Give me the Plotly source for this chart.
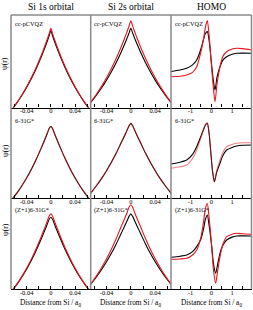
import plotly.graph_objects as go

# ---------------- data ----------------
col_titles = ["Si 1s orbital", "Si 2s orbital", "HOMO"]
row_labels = ["cc-pCVQZ", "6-31G*", "(Z+1)6-31G*"]

# Si 1s column
x_1s = [-0.068, -0.064, -0.056, -0.048, -0.040, -0.032, -0.024, -0.016, -0.010, -0.006, -0.003, 0.0,
        0.003, 0.006, 0.010, 0.016, 0.024, 0.032, 0.040, 0.048, 0.056, 0.064, 0.068]
s1_r1_red = [-0.051, -0.017, 0.055, 0.136, 0.226, 0.326, 0.438, 0.562, 0.665, 0.738, 0.796, 0.856,
             0.796, 0.738, 0.665, 0.562, 0.438, 0.326, 0.226, 0.136, 0.055, -0.017, -0.051]
s1_r1_blk = [-0.049, -0.017, 0.053, 0.132, 0.219, 0.316, 0.425, 0.545, 0.645, 0.716, 0.772, 0.830,
             0.772, 0.716, 0.645, 0.545, 0.425, 0.316, 0.219, 0.132, 0.053, -0.017, -0.049]
s1_r2_red = [-0.055, -0.018, 0.059, 0.147, 0.244, 0.352, 0.473, 0.607, 0.712, 0.785, 0.845, 0.872,
             0.845, 0.785, 0.712, 0.607, 0.473, 0.352, 0.244, 0.147, 0.059, -0.018, -0.055]
s1_r2_blk = [-0.055, -0.018, 0.059, 0.147, 0.244, 0.352, 0.473, 0.607, 0.712, 0.785, 0.845, 0.872,
             0.845, 0.785, 0.712, 0.607, 0.473, 0.352, 0.244, 0.147, 0.059, -0.018, -0.055]
s1_r3_red = [-0.057, -0.019, 0.062, 0.152, 0.253, 0.366, 0.491, 0.631, 0.740, 0.818, 0.877, 0.905,
             0.877, 0.818, 0.740, 0.631, 0.491, 0.366, 0.253, 0.152, 0.062, -0.019, -0.057]
s1_r3_blk = [-0.054, -0.018, 0.059, 0.145, 0.242, 0.349, 0.469, 0.602, 0.707, 0.780, 0.838, 0.865,
             0.838, 0.780, 0.707, 0.602, 0.469, 0.349, 0.242, 0.145, 0.059, -0.018, -0.054]

# Si 2s column
x_2s = [-0.070, -0.065, -0.056, -0.048, -0.040, -0.032, -0.024, -0.016, -0.010, -0.006, -0.003, 0.0,
        0.003, 0.006, 0.010, 0.016, 0.024, 0.032, 0.040, 0.048, 0.056, 0.065, 0.070]
s2_r1_red = [0.023, 0.066, 0.149, 0.231, 0.322, 0.422, 0.532, 0.654, 0.754, 0.825, 0.880, 0.938,
             0.880, 0.825, 0.754, 0.654, 0.532, 0.422, 0.322, 0.231, 0.149, 0.066, 0.023]
s2_r1_blk = [0.025, 0.063, 0.139, 0.213, 0.296, 0.387, 0.487, 0.598, 0.689, 0.753, 0.804, 0.856,
             0.804, 0.753, 0.689, 0.598, 0.487, 0.387, 0.296, 0.213, 0.139, 0.063, 0.025]
s2_r2_red = [0.023, 0.066, 0.152, 0.236, 0.330, 0.433, 0.546, 0.672, 0.765, 0.830, 0.880, 0.910,
             0.880, 0.830, 0.765, 0.672, 0.546, 0.433, 0.330, 0.236, 0.152, 0.066, 0.023]
s2_r2_blk = [0.023, 0.066, 0.152, 0.236, 0.330, 0.433, 0.546, 0.672, 0.765, 0.830, 0.880, 0.910,
             0.880, 0.830, 0.765, 0.672, 0.546, 0.433, 0.330, 0.236, 0.152, 0.066, 0.023]
s2_r3_red = [0.021, 0.069, 0.165, 0.260, 0.365, 0.480, 0.608, 0.749, 0.853, 0.925, 0.985, 1.015,
             0.985, 0.925, 0.853, 0.749, 0.608, 0.480, 0.365, 0.260, 0.165, 0.069, 0.021]
s2_r3_blk = [0.023, 0.066, 0.151, 0.235, 0.328, 0.430, 0.543, 0.668, 0.761, 0.825, 0.875, 0.905,
             0.875, 0.825, 0.761, 0.668, 0.543, 0.430, 0.328, 0.235, 0.151, 0.066, 0.023]

# HOMO column
x_h_r1 = [-1.95, -1.5, -1.18, -0.9, -0.7, -0.5, -0.38, -0.28, -0.19, -0.10, 0.0, 0.09, 0.18,
          0.28, 0.42, 0.55, 0.74, 1.0, 1.22, 1.5, 1.95]
h_r1_red = [0.333, 0.338, 0.351, 0.38, 0.441, 0.60, 0.73, 0.87, 0.939, 0.77, 0.49, 0.24, 0.062,
            0.26, 0.441, 0.55, 0.603, 0.632, 0.640, 0.636, 0.622]
h_r1_blk = [0.388, 0.405, 0.424, 0.46, 0.514, 0.63, 0.73, 0.80, 0.82, 0.72, 0.50, 0.31, 0.189,
            0.33, 0.441, 0.51, 0.549, 0.575, 0.586, 0.588, 0.586]
x_h_r2 = [-1.95, -1.5, -1.18, -0.9, -0.7, -0.5, -0.38, -0.28, -0.19, -0.10, -0.02, 0.06, 0.15,
          0.26, 0.42, 0.55, 0.74, 1.0, 1.22, 1.5, 1.95]
h_r2_red = [0.360, 0.378, 0.400, 0.48, 0.584, 0.73, 0.829, 0.895, 0.918, 0.78, 0.55, 0.33, 0.196,
            0.33, 0.461, 0.55, 0.624, 0.652, 0.666, 0.672, 0.673]
h_r2_blk = [0.412, 0.435, 0.461, 0.53, 0.624, 0.75, 0.829, 0.89, 0.911, 0.78, 0.55, 0.33, 0.196,
            0.31, 0.421, 0.51, 0.584, 0.615, 0.633, 0.642, 0.645]
x_h_r3 = [-1.95, -1.5, -1.18, -0.9, -0.7, -0.5, -0.38, -0.28, -0.19, -0.10, 0.01, 0.11, 0.21,
          0.31, 0.42, 0.55, 0.74, 1.0, 1.22, 1.5, 1.95]
h_r3_red = [0.358, 0.362, 0.370, 0.41, 0.470, 0.62, 0.795, 0.97, 1.030, 0.85, 0.55, 0.22, 0.069,
            0.22, 0.389, 0.53, 0.630, 0.660, 0.671, 0.665, 0.659]
h_r3_blk = [0.382, 0.395, 0.410, 0.45, 0.510, 0.60, 0.711, 0.84, 0.892, 0.76, 0.54, 0.30, 0.189,
            0.30, 0.430, 0.52, 0.590, 0.625, 0.639, 0.640, 0.639]

core_tickvals = [-0.04, 0, 0.04]
core_ticktext = ["-0.04", "0", "0.04"]
core_minorvals = [-0.06, -0.02, 0.02, 0.06]
homo_tickvals = [-1, 0, 1]
homo_ticktext = ["-1", "0", "1"]
homo_minorvals = [-1.5, -0.5, 0.5, 1.5]

# ---------------- layout geometry ----------------
W, H = 253, 310
FONT = "Liberation Serif"
RED = "#e8141c"

def px(v):
    return v / W

def py(v):
    return 1 - v / H

col_edges = [11, 90.7, 171, 251.5]
# (axis-line pixel, top pixel, y-range top)
rows_geo = [(107.5, 15, 1.0), (197.7, 116, 1.0), (289, 198, (289 - 198) / 83)]

panels = [
    [(x_1s, s1_r1_red, s1_r1_blk), (x_2s, s2_r1_red, s2_r1_blk), (x_h_r1, h_r1_red, h_r1_blk)],
    [(x_1s, s1_r2_red, s1_r2_blk), (x_2s, s2_r2_red, s2_r2_blk), (x_h_r2, h_r2_red, h_r2_blk)],
    [(x_1s, s1_r3_red, s1_r3_blk), (x_2s, s2_r3_red, s2_r3_blk), (x_h_r3, h_r3_red, h_r3_blk)],
]

fig = go.Figure()
layout = {}
n = 0
for r in range(3):
    for c in range(3):
        n += 1
        sfx = "" if n == 1 else str(n)
        xs, yr, yb = panels[r][c]
        red_col = "rgba(232,20,28,0.55)" if r == 1 else RED
        fig.add_trace(go.Scatter(x=xs, y=yb, mode="lines", xaxis="x" + sfx, yaxis="y" + sfx,
                                 line=dict(color="black", width=1.1, shape="spline", smoothing=0.7),
                                 showlegend=False, hoverinfo="skip"))
        fig.add_trace(go.Scatter(x=xs, y=yr, mode="lines", xaxis="x" + sfx, yaxis="y" + sfx,
                                 line=dict(color=red_col, width=1.1, shape="spline", smoothing=0.7),
                                 showlegend=False, hoverinfo="skip"))
        bot, top, ytop = rows_geo[r]
        if c < 2:
            xr, tv, tt, mv = [-0.066, 0.066], core_tickvals, core_ticktext, core_minorvals
        else:
            xr, tv, tt, mv = [-1.935, 1.935], homo_tickvals, homo_ticktext, homo_minorvals
        layout["xaxis" + sfx] = dict(
            domain=[px(col_edges[c]), px(col_edges[c + 1])], range=xr, anchor="y" + sfx,
            tickvals=tv, ticktext=tt, ticks="inside", ticklen=3, tickwidth=0.8, tickcolor="black",
            minor=dict(tickvals=mv, ticks="inside", ticklen=3, tickwidth=0.8, tickcolor="black",
                       showgrid=False),
            ticklabelstandoff=-3,
            showline=True, linecolor="black", linewidth=1.3, showgrid=False, zeroline=False,
            tickfont=dict(family=FONT, size=6.5, color="black"), fixedrange=True)
        layout["yaxis" + sfx] = dict(
            domain=[py(bot), py(top)], range=[0, ytop], anchor="x" + sfx, visible=False,
            fixedrange=True)

shapes = []
GRAY = "#8a8a8a"
for xe in col_edges:
    shapes.append(dict(type="line", xref="paper", yref="paper", x0=px(xe), x1=px(xe),
                       y0=py(289), y1=py(15), line=dict(color=GRAY, width=1.5)))
shapes.append(dict(type="line", xref="paper", yref="paper", x0=px(col_edges[0]), x1=px(col_edges[-1]),
                   y0=py(15), y1=py(15), line=dict(color=GRAY, width=1.5)))

annotations = []
for c in range(3):
    cx = (col_edges[c] + col_edges[c + 1]) / 2
    annotations.append(dict(text=col_titles[c], x=px(cx), y=py(7.5), xref="paper", yref="paper",
                            showarrow=False, xanchor="center", yanchor="middle",
                            font=dict(family=FONT, size=9.5, color="black")))
    annotations.append(dict(text="Distance from Si / a<sub>0</sub>", x=px(cx), y=py(302.5),
                            xref="paper", yref="paper", showarrow=False, xanchor="center",
                            yanchor="middle", font=dict(family=FONT, size=7.3, color="black")))
label_y = [23.5, 120, 209.5]
for r in range(3):
    for c in range(3):
        annotations.append(dict(text=row_labels[r], x=px(col_edges[c] + 1.5), y=py(label_y[r]),
                                xref="paper", yref="paper", showarrow=False, xanchor="left",
                                yanchor="middle", font=dict(family=FONT, size=6.3, color="black")))
psi_y = [64, 151, 230]
for r in range(3):
    annotations.append(dict(text="ψ(r)", x=px(5), y=py(psi_y[r]), xref="paper", yref="paper",
                            showarrow=False, textangle=-90, xanchor="center", yanchor="middle",
                            font=dict(family=FONT, size=7.5, color="black")))

fig.update_layout(width=W, height=H, margin=dict(l=0, r=0, t=0, b=0),
                  paper_bgcolor="white", plot_bgcolor="white",
                  shapes=shapes, annotations=annotations, **layout)

fig.write_html("out.html", config={"displayModeBar": False})
